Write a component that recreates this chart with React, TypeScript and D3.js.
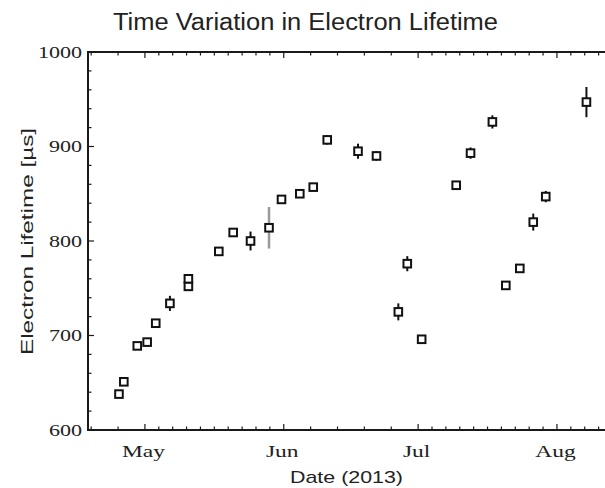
import React from "react";
import * as d3 from "d3";

// ---- data ----
const measurementTimes = [
  "2013-04-25T05:00", "2013-04-26T07:00", "2013-04-29T07:00", "2013-05-01T12:00",
  "2013-05-03T10:00", "2013-05-06T14:00", "2013-05-10T17:00", "2013-05-10T17:00",
  "2013-05-17T12:00", "2013-05-20T17:00", "2013-05-24T14:00", "2013-05-28T17:00",
  "2013-05-31T12:00", "2013-06-04T14:00", "2013-06-07T14:00", "2013-06-10T17:00",
  "2013-06-17T14:00", "2013-06-21T17:00", "2013-06-26T14:00", "2013-06-28T14:00",
  "2013-07-01T19:00", "2013-07-09T12:00", "2013-07-12T17:00", "2013-07-17T14:00",
  "2013-07-20T14:00", "2013-07-23T17:00", "2013-07-26T17:00", "2013-07-29T12:00",
  "2013-08-07T14:00",
];
const lifetimes = [
  638, 651, 689, 693, 713, 734, 752, 760, 789, 809, 800, 814, 844, 850, 857, 907,
  895, 890, 725, 776, 696, 859, 893, 926, 753, 771, 820, 847, 947,
];
const lifetimeErrors = [
  3, 3, 3, 3, 3, 8, 3, 3, 3, 3, 10, 22, 3, 3, 4, 5,
  8, 5, 9, 8, 3, 3, 6, 7, 3, 3, 9, 6, 16,
];
const systematicFlag = [
  false, false, false, false, false, false, false, false, false, false, false, true,
  false, false, false, false, false, false, false, false, false, false, false, false,
  false, false, false, false, false,
];
const yTickValues = [600, 700, 800, 900, 1000];
const monthStarts = ["2013-04-01", "2013-05-01", "2013-06-01", "2013-07-01", "2013-08-01", "2013-09-01"];
const monthSubdivisions = [5, 10, 5, 10, 10];
const monthLabels = ["", "May", "Jun", "Jul", "Aug"];
const titleText = "Time Variation in Electron Lifetime";
const xTitle = "Date (2013)";
const yTitle = "Electron Lifetime [\u00b5s]";

const W = 605;
const H = 488;
const left = 88, right = 612, top = 52, bottom = 430;

const parseT = (s: string) => new Date(s.length > 10 ? s + ":00Z" : s + "T00:00:00Z");

export default function App() {
  const x = d3.scaleUtc()
    .domain([parseT("2013-04-18T07:00"), parseT("2013-08-13T07:00")])
    .range([left, right]);
  const y = d3.scaleLinear().domain([600, 1000]).range([bottom, top]);

  const axisColor = "#1a1a1a";
  const serif = "'Liberation Serif', 'DejaVu Serif', serif";
  const sans = "'Liberation Sans', Arial, sans-serif";

  // x ticks
  const xMajor: { x: number; label: string }[] = [];
  const xMinor: number[] = [];
  for (let m = 0; m < monthSubdivisions.length; m++) {
    const a = parseT(monthStarts[m]).getTime();
    const b = parseT(monthStarts[m + 1]).getTime();
    const n = monthSubdivisions[m];
    xMajor.push({ x: x(new Date(a)), label: monthLabels[m] });
    for (let k = 1; k < n; k++) xMinor.push(x(new Date(a + ((b - a) * k) / n)));
  }
  const yMinor = d3.range(600, 1001, 20).filter((v) => v % 100 !== 0);

  const points = measurementTimes.map((t, i) => ({
    px: x(parseT(t)),
    py: y(lifetimes[i]),
    lo: y(lifetimes[i] - lifetimeErrors[i]),
    hi: y(lifetimes[i] + lifetimeErrors[i]),
    grey: systematicFlag[i],
  }));

  const inX = (v: number) => v > left + 1 && v < W + 10;

  return (
    <svg width={W} height={H} style={{ position: "absolute", left: 0, top: 0, background: "#fff" }}>
      <rect x={0} y={0} width={W} height={H} fill="#fff" />
      {/* title */}
      <text x={113} y={29.5} fontFamily={sans} fontSize={23} fill="#222"
        textLength={385} lengthAdjust="spacingAndGlyphs">{titleText}</text>

      {/* frame */}
      <line x1={left} x2={right} y1={top} y2={top} stroke={axisColor} strokeWidth={2} />
      <line x1={left} x2={right} y1={bottom} y2={bottom} stroke={axisColor} strokeWidth={2} />
      <line x1={left} x2={left} y1={top - 1} y2={bottom + 1} stroke={axisColor} strokeWidth={2} />

      {/* x ticks */}
      {xMajor.filter((d) => inX(d.x)).map((d, i) => (
        <g key={"xm" + i}>
          <line x1={d.x} x2={d.x} y1={bottom} y2={bottom - 6} stroke={axisColor} strokeWidth={1.2} />
          <line x1={d.x} x2={d.x} y1={top} y2={top + 6} stroke={axisColor} strokeWidth={1.2} />
        </g>
      ))}
      {xMinor.filter(inX).map((v, i) => (
        <g key={"xn" + i}>
          <line x1={v} x2={v} y1={bottom} y2={bottom - 3.5} stroke={axisColor} strokeWidth={1.2} />
          <line x1={v} x2={v} y1={top} y2={top + 3.5} stroke={axisColor} strokeWidth={1.2} />
        </g>
      ))}
      {xMajor.filter((d) => d.label && inX(d.x)).map((d, i) => (
        <text key={"xl" + i} transform={`translate(${d.x - 1.5},457) scale(1.38,1)`}
          textAnchor="middle" fontFamily={serif} fontSize={17} fill="#222">{d.label}</text>
      ))}

      {/* y ticks */}
      {yTickValues.map((v) => (
        <g key={"ym" + v}>
          <line x1={left} x2={left + 6} y1={y(v)} y2={y(v)} stroke={axisColor} strokeWidth={1.2} />
          <text transform={`translate(82,${y(v) + 5.5}) scale(1.38,1)`} textAnchor="end"
            fontFamily={serif} fontSize={16} fill="#222">{v}</text>
        </g>
      ))}
      {yMinor.map((v) => (
        <line key={"yn" + v} x1={left} x2={left + 3.5} y1={y(v)} y2={y(v)} stroke={axisColor} strokeWidth={1.2} />
      ))}

      {/* axis titles */}
      <text x={290} y={483} fontFamily={sans} fontSize={17} fill="#222"
        textLength={113} lengthAdjust="spacingAndGlyphs">{xTitle}</text>
      <text transform={`translate(33,355) rotate(-90)`} fontFamily={sans} fontSize={17} fill="#222"
        textLength={227} lengthAdjust="spacingAndGlyphs">{yTitle}</text>

      {/* data */}
      {points.map((p, i) => (
        <g key={"p" + i}>
          <line x1={p.px} x2={p.px} y1={p.lo} y2={p.hi}
            stroke={p.grey ? "#9a9a9a" : "#111"} strokeWidth={p.grey ? 2.5 : 2} />
          <rect x={p.px - 3.8} y={p.py - 3.8} width={7.6} height={7.6}
            fill="#fff" stroke="#111" strokeWidth={2} />
        </g>
      ))}
    </svg>
  );
}
